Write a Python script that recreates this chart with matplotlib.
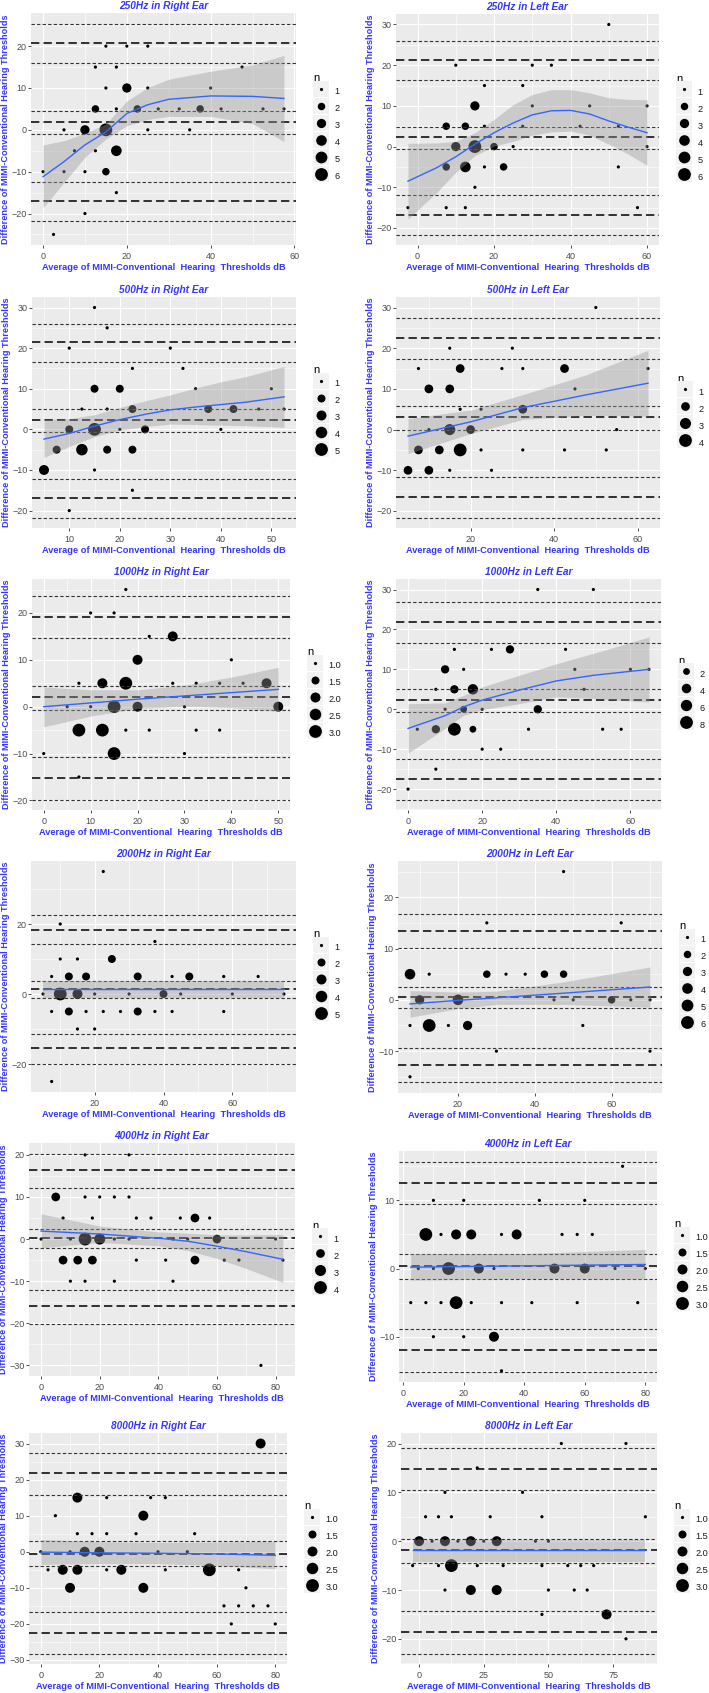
import matplotlib
matplotlib.use('Agg')

import matplotlib.pyplot as plt
from matplotlib.lines import Line2D
from matplotlib.legend_handler import HandlerTuple
import numpy as np

plt.rcParams['font.family'] = ['Liberation Sans', 'DejaVu Sans']

BLUE = '#3535FF'
X_LABEL = 'Average of MIMI-Conventional  Hearing  Thresholds dB'
Y_LABEL = 'Difference of MIMI-Conventional Hearing Thresholds'

# points: (average, difference, n)
pts_250R = [(0, -10, 1), (2.5, -25, 1), (5, 0, 1), (5, -10, 1), (7.5, -5, 1), (10, -10, 1), (10, -20, 1),
            (10, 0, 3), (12.5, 15, 1), (12.5, 5, 2), (12.5, -5, 1), (15, 20, 1), (15, 10, 1), (15, 0, 6),
            (15, -10, 2), (17.5, 15, 1), (17.5, 5, 1), (17.5, -5, 4), (17.5, -15, 1), (20, 20, 1), (20, 10, 3),
            (22.5, 5, 2), (25, 20, 1), (25, 10, 1), (25, 0, 1), (27.5, 5, 1), (32.5, 5, 1), (35, 0, 1),
            (37.5, 5, 2), (40, 10, 1), (42.5, 5, 1), (47.5, 15, 1), (52.5, 5, 1), (57.5, 5, 1)]
pts_250L = [(-2.5, -15, 1), (7.5, 5, 2), (7.5, -5, 2), (7.5, -15, 1), (10, 20, 1), (10, 0, 3), (12.5, 5, 2),
            (12.5, -5, 4), (12.5, -15, 1), (15, 10, 3), (15, 0, 6), (15, -10, 1), (17.5, 15, 1), (17.5, 5, 1),
            (17.5, -5, 1), (20, 0, 2), (22.5, -5, 2), (25, 0, 1), (27.5, 15, 1), (27.5, 5, 1), (30, 20, 1),
            (30, 10, 1), (35, 20, 1), (42.5, 5, 1), (45, 10, 1), (50, 30, 1), (52.5, 5, 1), (52.5, -5, 1),
            (57.5, -15, 1), (60, 10, 1), (60, 0, 1)]
pts_500R = [(5, -10, 3), (7.5, -5, 2), (10, 20, 1), (10, 0, 2), (10, -20, 1), (12.5, 5, 1), (12.5, -5, 4),
            (15, 30, 1), (15, 10, 2), (15, 0, 5), (15, -10, 1), (17.5, 25, 1), (17.5, 5, 1), (17.5, -5, 2),
            (20, 10, 2), (20, 0, 1), (22.5, 15, 1), (22.5, 5, 2), (22.5, -5, 2), (22.5, -15, 1), (25, 0, 2),
            (30, 20, 1), (32.5, 15, 1), (35, 10, 1), (37.5, 5, 2), (40, 0, 1), (42.5, 5, 2), (47.5, 5, 1),
            (50, 10, 1), (52.5, 5, 1)]
pts_500L = [(5, -10, 2), (7.5, 15, 1), (7.5, -5, 2), (10, 10, 2), (10, 0, 1), (10, -10, 2), (12.5, -5, 2),
            (15, 20, 1), (15, 10, 2), (15, 0, 3), (15, -10, 1), (17.5, 15, 2), (17.5, 5, 1), (17.5, -5, 4),
            (20, 0, 2), (22.5, 5, 1), (22.5, -5, 1), (25, -10, 1), (27.5, 15, 1), (30, 20, 1), (32.5, 15, 1),
            (32.5, 5, 2), (32.5, -5, 1), (42.5, 15, 2), (42.5, -5, 1), (45, 10, 1), (50, 30, 1), (52.5, -5, 1),
            (55, 0, 1), (62.5, 15, 1)]
pts_1000R = [(0, -10, 1), (5, 0, 1), (7.5, 5, 1), (7.5, -5, 3), (7.5, -15, 1), (10, 20, 1), (10, 0, 1),
             (12.5, 5, 2), (12.5, -5, 3), (15, 20, 1), (15, 0, 3), (15, -10, 3), (17.5, 25, 1), (17.5, 5, 3),
             (17.5, -5, 1), (20, 10, 2), (20, 0, 2), (22.5, 15, 1), (22.5, -5, 1), (27.5, 15, 2), (27.5, 5, 1),
             (30, 0, 1), (30, -10, 1), (32.5, 5, 1), (32.5, -5, 1), (37.5, 5, 1), (37.5, -5, 1), (40, 10, 1),
             (42.5, 5, 1), (47.5, 5, 2), (50, 0, 2)]
pts_1000L = [(0, -20, 1), (2.5, -5, 1), (7.5, 5, 1), (7.5, -5, 3), (7.5, -15, 1), (10, 10, 3), (10, 0, 1),
             (12.5, 15, 1), (12.5, 5, 3), (12.5, -5, 8), (15, 10, 1), (15, 0, 2), (17.5, 5, 5), (17.5, -5, 2),
             (20, 0, 1), (20, -10, 1), (22.5, 15, 1), (25, -10, 1), (27.5, 15, 3), (32.5, -5, 1), (35, 30, 1),
             (35, 0, 3), (42.5, 15, 1), (45, 10, 1), (47.5, 5, 1), (50, 30, 1), (52.5, -5, 1), (57.5, -5, 1),
             (60, 10, 1), (65, 10, 1)]
pts_2000R = [(5, 0, 1), (7.5, 5, 1), (7.5, -5, 1), (7.5, -25, 1), (10, 20, 1), (10, 10, 1), (10, 0, 5),
             (12.5, 5, 2), (12.5, -5, 2), (15, 10, 1), (15, 0, 3), (15, -10, 1), (17.5, 5, 2), (17.5, -5, 1),
             (20, 0, 1), (20, -10, 1), (22.5, 35, 1), (22.5, -5, 1), (25, 10, 2), (27.5, -5, 1), (30, 0, 1),
             (32.5, 5, 2), (32.5, -5, 2), (37.5, 15, 1), (37.5, -5, 1), (40, 0, 2), (42.5, 5, 1), (42.5, -5, 1),
             (45, 0, 1), (47.5, 5, 2), (57.5, 5, 1), (57.5, -5, 1), (60, 0, 1), (67.5, 5, 1), (75, 0, 1)]
pts_2000L = [(7.5, 5, 4), (7.5, -5, 1), (7.5, -15, 1), (10, 0, 3), (12.5, 5, 1), (12.5, -5, 6), (17.5, -5, 1),
             (20, 0, 4), (22.5, -5, 3), (27.5, 15, 1), (27.5, 5, 2), (30, -10, 1), (32.5, 5, 1), (37.5, 5, 1),
             (42.5, 5, 2), (45, 0, 1), (47.5, 25, 1), (47.5, 5, 2), (50, 0, 1), (52.5, -5, 1), (60, 0, 2),
             (62.5, 15, 1), (65, 0, 1), (70, 0, 1), (70, -10, 1)]
pts_4000R = [(0, 0, 1), (5, 10, 2), (7.5, 5, 1), (7.5, -5, 2), (10, 0, 1), (10, -10, 1), (12.5, -5, 2),
             (15, 20, 1), (15, 10, 1), (15, 0, 4), (15, -10, 1), (17.5, 5, 1), (17.5, -5, 2), (20, 10, 1),
             (20, 0, 3), (25, 10, 1), (25, 0, 1), (25, -10, 1), (30, 20, 1), (30, 10, 1), (30, 0, 1),
             (32.5, 5, 1), (32.5, -5, 1), (37.5, 5, 1), (42.5, -5, 1), (45, 0, 1), (45, -10, 1), (47.5, 5, 1),
             (50, 0, 1), (52.5, 5, 2), (52.5, -5, 2), (57.5, 5, 1), (60, 0, 2), (62.5, -5, 1), (67.5, -5, 1),
             (75, -30, 1), (80, 0, 1), (82.5, -5, 1)]
pts_4000L = [(2.5, -5, 1), (5, 0, 1), (7.5, 5, 3), (7.5, -5, 1), (10, 10, 1), (10, 0, 1), (10, -10, 1),
             (12.5, 5, 1), (12.5, -5, 1), (15, 0, 3), (17.5, 5, 2), (17.5, -5, 3), (20, 10, 1), (20, -10, 1),
             (22.5, 5, 2), (22.5, -5, 1), (25, 0, 2), (30, 0, 1), (30, -10, 2), (32.5, 5, 1), (32.5, -5, 1),
             (32.5, -15, 1), (37.5, 5, 2), (42.5, -5, 1), (45, 10, 1), (50, 0, 2), (52.5, 5, 1), (57.5, 5, 1),
             (57.5, -5, 1), (60, 10, 1), (60, 0, 2), (62.5, 5, 1), (70, 0, 1), (72.5, 15, 1), (77.5, -5, 1),
             (80, 0, 1)]
pts_8000R = [(0, 0, 1), (2.5, -5, 1), (5, 10, 1), (7.5, -5, 2), (10, 0, 1), (10, -10, 2), (12.5, 15, 2),
             (12.5, 5, 1), (12.5, -5, 2), (15, 0, 2), (17.5, 5, 1), (20, 0, 2), (22.5, 15, 1), (22.5, 5, 1),
             (22.5, -5, 1), (27.5, -5, 2), (32.5, 5, 1), (35, 10, 2), (35, -10, 2), (37.5, 15, 1), (40, 0, 1),
             (42.5, 15, 1), (42.5, -5, 1), (50, 0, 1), (52.5, 5, 1), (57.5, -5, 3), (62.5, -15, 1), (65, -20, 1),
             (67.5, -5, 1), (67.5, -15, 1), (70, -10, 1), (72.5, -15, 1), (75, 30, 2), (77.5, -15, 1),
             (80, -20, 1)]
pts_8000L = [(-2.5, -5, 1), (0, 0, 2), (2.5, 5, 1), (5, 0, 1), (7.5, 5, 1), (7.5, -5, 1), (10, 10, 1),
             (10, 0, 2), (10, -10, 1), (12.5, 5, 1), (12.5, -5, 3), (15, 0, 1), (20, 0, 2), (20, -10, 2),
             (22.5, 15, 1), (22.5, -5, 1), (25, 0, 1), (27.5, 5, 1), (30, 0, 2), (30, -10, 2), (32.5, -5, 1),
             (40, 10, 1), (45, 0, 1), (47.5, 5, 1), (47.5, -5, 1), (47.5, -15, 1), (50, 0, 1), (50, -10, 1),
             (55, 20, 1), (57.5, -5, 1), (60, -10, 1), (62.5, -5, 1), (65, -10, 1), (67.5, -5, 1),
             (72.5, -15, 2), (80, 20, 1), (80, -20, 1), (87.5, 5, 1)]

# Bland-Altman lines, top to bottom: upper LoA (CI hi, LoA, CI lo), bias (CI hi, bias, CI lo), lower LoA
ba_250R = [25.4, 20.7, 15.9, 4.5, 1.9, -1.0, -12.4, -17.1, -21.7]
ba_250L = [25.9, 21.2, 16.3, 4.9, 2.4, -0.7, -11.8, -16.7, -21.6]
ba_500R = [26.0, 21.4, 16.6, 4.9, 2.4, -0.6, -12.1, -16.8, -21.7]
ba_500L = [27.3, 22.5, 17.3, 5.8, 3.0, 0.0, -11.7, -16.6, -21.6]
ba_1000R = [23.6, 19.1, 14.6, 4.4, 2.0, -0.6, -10.7, -15.3, -19.8]
ba_1000L = [26.9, 21.8, 16.7, 5.0, 2.3, -0.8, -12.5, -17.5, -22.6]
ba_2000R = [22.6, 18.4, 14.2, 3.8, 1.3, -1.2, -11.4, -15.5, -20.0]
ba_2000L = [16.7, 13.5, 10.1, 2.5, 0.5, -1.6, -9.4, -12.7, -16.1]
ba_4000R = [20.3, 16.3, 12.2, 2.5, 0.2, -2.2, -12.0, -15.9, -20.2]
ba_4000L = [15.7, 12.6, 9.4, 2.1, 0.4, -1.6, -8.9, -11.9, -15.1]
ba_8000R = [27.3, 21.7, 15.8, 3.0, -0.5, -3.9, -16.8, -22.5, -28.2]
ba_8000L = [19.0, 14.8, 10.4, 0.5, -1.9, -4.4, -14.3, -18.6, -23.0]

# smoother: (x, fit, lower, upper)
fit_250R = [(0, -11.2, -18.6, -3.6), (5, -7.6, -12.6, -2.6), (10, -3.6, -6.5, -0.8), (15, -0.5, -2.2, 1.4),
            (20, 3.9, 1.0, 6.9), (25, 6.0, 2.5, 10.1), (30, 7.3, 3.2, 12.1), (40, 8.1, 3.2, 14.0),
            (50, 8.0, 1.5, 15.5), (57.5, 7.5, -2.8, 17.8)]
fit_250L = [(-2.5, -8.5, -17.8, 0.8), (5, -5.2, -11.3, 0.9), (10, -2.5, -6.3, 1.3), (15, 0.6, -2.2, 3.4),
            (20, 3.4, 0.1, 6.7), (25, 5.8, 1.3, 10.3), (30, 7.8, 2.8, 12.8), (35, 8.8, 3.6, 14.0),
            (40, 8.9, 3.8, 14.0), (45, 8.0, 2.8, 13.2), (50, 6.3, 0.6, 12.0), (55, 4.8, -1.8, 11.6),
            (60, 3.4, -4.6, 11.5)]
fit_500R = [(5, -2.4, -6.9, 2.4), (10, -1.0, -4.2, 2.6), (15, 0.8, -1.8, 3.6), (20, 2.4, -0.2, 5.4),
            (25, 3.7, 0.7, 7.0), (30, 4.8, 1.3, 8.5), (35, 5.5, 1.2, 10.2), (40, 6.1, 1.0, 11.7),
            (45, 6.7, 0.9, 13.0), (52.5, 8.0, 0.5, 15.5)]
fit_500L = [(5, -1.6, -5.9, 2.7), (20, 1.9, -1.0, 4.8), (32.5, 5.4, 2.5, 8.6), (47.5, 8.5, 3.5, 13.4),
            (62.5, 11.4, 3.3, 19.5)]
fit_1000R = [(0, 0.0, -4.3, 4.2), (10, 0.8, -2.0, 3.6), (20, 1.6, -0.4, 3.6), (30, 2.3, 0.1, 4.6),
             (40, 3.0, -0.2, 6.3), (50, 3.7, -1.0, 8.4)]
fit_1000L = [(0, -4.8, -11.0, 1.4), (10, -1.6, -4.8, 1.6), (15, 0.6, -1.5, 3.5), (20, 2.3, -0.1, 5.6),
             (30, 4.8, 1.4, 8.5), (40, 7.1, 3.1, 11.4), (50, 8.5, 2.7, 14.0), (65, 10.0, 1.8, 18.1)]
fit_2000R = [(5, 1.3, -1.0, 3.6), (40, 1.3, -1.0, 3.6), (75, 1.3, -1.0, 3.6)]
fit_2000L = [(7.5, -0.8, -3.4, 1.8), (20, -0.1, -1.7, 1.5), (30, 0.4, -0.9, 1.7), (47.5, 1.3, -0.9, 3.5),
             (70, 2.5, -1.4, 6.4)]
fit_4000R = [(0, 1.9, -2.1, 6.0), (20, 1.2, -0.8, 3.1), (40, 0.2, -1.6, 1.7), (50, -0.5, -2.7, 1.4),
             (60, -1.7, -4.6, 1.0), (70, -3.0, -7.0, 1.0), (82.5, -4.8, -10.3, 1.1)]
fit_4000L = [(2.5, 0.2, -1.7, 2.2), (40, 0.4, -1.5, 2.2), (80, 0.6, -1.6, 2.8)]
fit_8000R = [(0, -0.1, -3.5, 3.4), (20, -0.3, -3.3, 2.8), (40, -0.4, -3.3, 2.6), (60, -0.6, -3.8, 2.7),
             (80, -1.0, -4.7, 2.9)]
fit_8000L = [(-2.5, -1.9, -4.2, 0.3), (42.5, -1.9, -4.2, 0.3), (87.5, -1.9, -4.2, 0.3)]

titles = ['250Hz in Right Ear', '250Hz in Left Ear', '500Hz in Right Ear', '500Hz in Left Ear',
          '1000Hz in Right Ear', '1000Hz in Left Ear', '2000Hz in Right Ear', '2000Hz in Left Ear',
          '4000Hz in Right Ear', '4000Hz in Left Ear', '8000Hz in Right Ear', '8000Hz in Left Ear']
points = [pts_250R, pts_250L, pts_500R, pts_500L, pts_1000R, pts_1000L,
          pts_2000R, pts_2000L, pts_4000R, pts_4000L, pts_8000R, pts_8000L]
ba_lines = [ba_250R, ba_250L, ba_500R, ba_500L, ba_1000R, ba_1000L,
            ba_2000R, ba_2000L, ba_4000R, ba_4000L, ba_8000R, ba_8000L]
fits = [fit_250R, fit_250L, fit_500R, fit_500L, fit_1000R, fit_1000L,
        fit_2000R, fit_2000L, fit_4000R, fit_4000L, fit_8000R, fit_8000L]
x_ticks = [[0, 20, 40, 60], [0, 20, 40, 60], [10, 20, 30, 40, 50], [20, 40, 60],
           [0, 10, 20, 30, 40, 50], [0, 20, 40, 60], [20, 40, 60], [20, 40, 60],
           [0, 20, 40, 60, 80], [0, 20, 40, 60, 80], [0, 20, 40, 60, 80], [0, 25, 50, 75]]
y_ticks = [[-20, -10, 0, 10, 20], [-20, -10, 0, 10, 20, 30], [-20, -10, 0, 10, 20, 30],
           [-20, -10, 0, 10, 20, 30], [-20, -10, 0, 10, 20], [-20, -10, 0, 10, 20, 30],
           [-20, 0, 20], [-10, 0, 10, 20], [-30, -20, -10, 0, 10, 20], [-10, 0, 10],
           [-30, -20, -10, 0, 10, 20, 30], [-20, -10, 0, 10, 20]]
n_breaks = [['1', '2', '3', '4', '5', '6'], ['1', '2', '3', '4', '5', '6'], ['1', '2', '3', '4', '5'],
            ['1', '2', '3', '4'], ['1.0', '1.5', '2.0', '2.5', '3.0'], ['2', '4', '6', '8'],
            ['1', '2', '3', '4', '5'], ['1', '2', '3', '4', '5', '6'], ['1', '2', '3', '4'],
            ['1.0', '1.5', '2.0', '2.5', '3.0'], ['1.0', '1.5', '2.0', '2.5', '3.0'],
            ['1.0', '1.5', '2.0', '2.5', '3.0']]

# layout: plot rectangles in pixels (left, top, right, bottom)
W, H = 709, 1693
rects = [(31, 13, 296, 245), (396, 14, 659, 245),
         (32, 297, 296, 528), (396, 297, 660, 528),
         (32, 579, 290, 810), (396, 579, 661, 810),
         (31, 861, 296, 1092), (398, 861, 662, 1093),
         (29, 1143, 295, 1376), (399, 1151, 657, 1382),
         (29, 1433, 287, 1664), (401, 1433, 657, 1664)]

D_MIN, D_MAX = 2.3, 9.2    # point diameters (pt) for smallest / largest count
KEY = 12.2                 # legend key size (pt)
LEG_FS = 6.6


def diam(n, lo, hi):
    t = (n - lo) / (hi - lo)
    return D_MIN + np.sqrt(t) * (D_MAX - D_MIN)


def expand(vals):
    lo, hi = min(vals), max(vals)
    pad = (hi - lo) * 0.05
    return lo - pad, hi + pad


def minor_of(major, lim):
    step = major[1] - major[0]
    ext = np.arange(major[0] - step, major[-1] + 2 * step, step)
    mids = ext[:-1] + step / 2
    return [m for m in mids if lim[0] <= m <= lim[1]]


fig = plt.figure(figsize=(W / 100, H / 100), dpi=100)

for i in range(12):
    l, t, r, b = rects[i]
    ax = fig.add_axes([l / W, 1 - b / H, (r - l) / W, (b - t) / H])
    pts = points[i]
    fit = fits[i]
    px = np.array([p[0] for p in pts])
    py = np.array([p[1] for p in pts])
    pn = np.array([p[2] for p in pts])
    fx = np.array([f[0] for f in fit])
    fy = np.array([f[1] for f in fit])
    flo = np.array([f[2] for f in fit])
    fhi = np.array([f[3] for f in fit])
    nlo, nhi = pn.min(), pn.max()

    xlim = expand(list(px) + list(fx))
    ylim = expand(list(py) + ba_lines[i] + list(flo) + list(fhi))
    ax.set_xlim(xlim)
    ax.set_ylim(ylim)

    ax.set_facecolor('#EBEBEB')
    for s in ax.spines.values():
        s.set_visible(False)
    ax.set_axisbelow(True)
    ax.set_xticks(x_ticks[i])
    ax.set_yticks(y_ticks[i])
    ax.set_xticks(minor_of(x_ticks[i], xlim), minor=True)
    ax.set_yticks(minor_of(y_ticks[i], ylim), minor=True)
    ax.grid(which='major', color='white', lw=0.8)
    ax.grid(which='minor', color='white', lw=0.4)
    ax.tick_params(which='major', length=2, width=0.6, color='#333333', labelsize=6.5,
                   labelcolor='#4D4D4D', pad=1.2)
    ax.tick_params(axis='x', which='major', pad=3.2)
    ax.tick_params(which='minor', length=0)

    sizes = diam(pn, nlo, nhi) ** 2
    ax.scatter(px, py, s=sizes, color='black', linewidths=0, zorder=2)

    for k, v in enumerate(ba_lines[i]):
        if k % 3 == 1:
            ax.axhline(v, color='#111111', lw=1.2, dashes=(5, 2.5), zorder=3)
        else:
            ax.axhline(v, color='#333333', lw=0.8, dashes=(3, 2), zorder=3)

    ax.fill_between(fx, flo, fhi, color='#999999', alpha=0.4, lw=0, zorder=4)
    ax.plot(fx, fy, color='#3366FF', lw=1.0, zorder=5)

    ax.set_title(titles[i], color=BLUE, fontsize=7.3, fontweight='bold', fontstyle='italic', pad=3)
    ax.set_xlabel(X_LABEL, color=BLUE, fontsize=6.7, fontweight='bold', labelpad=1.5)
    ax.set_ylabel(Y_LABEL, color=BLUE, fontsize=6.6, fontweight='bold', labelpad=1)

    handles = []
    for lab in n_breaks[i]:
        bg = Line2D([], [], ls='', marker='s', markersize=KEY, color='#F2F2F2', markeredgewidth=0)
        dot = Line2D([], [], ls='', marker='o', markersize=diam(float(lab), nlo, nhi),
                     color='black', markeredgewidth=0)
        handles.append((bg, dot))
    # legend handle height = fs * (0.65 * handleheight + 0.245)
    hh = (KEY / LEG_FS - 0.245) / 0.65
    leg = ax.legend(handles, n_breaks[i], title='n', loc='center left',
                    bbox_to_anchor=(1 + 17 / (r - l), 0.5), frameon=False, fontsize=LEG_FS,
                    title_fontsize=8, handler_map={tuple: HandlerTuple(ndivide=1)},
                    handlelength=KEY / LEG_FS, handleheight=hh, labelspacing=0,
                    handletextpad=0.5, borderpad=0, borderaxespad=0, alignment='left')
    for txt in leg.get_texts():
        txt.set_color('#1A1A1A')

fig.savefig('out.png', dpi=100)
